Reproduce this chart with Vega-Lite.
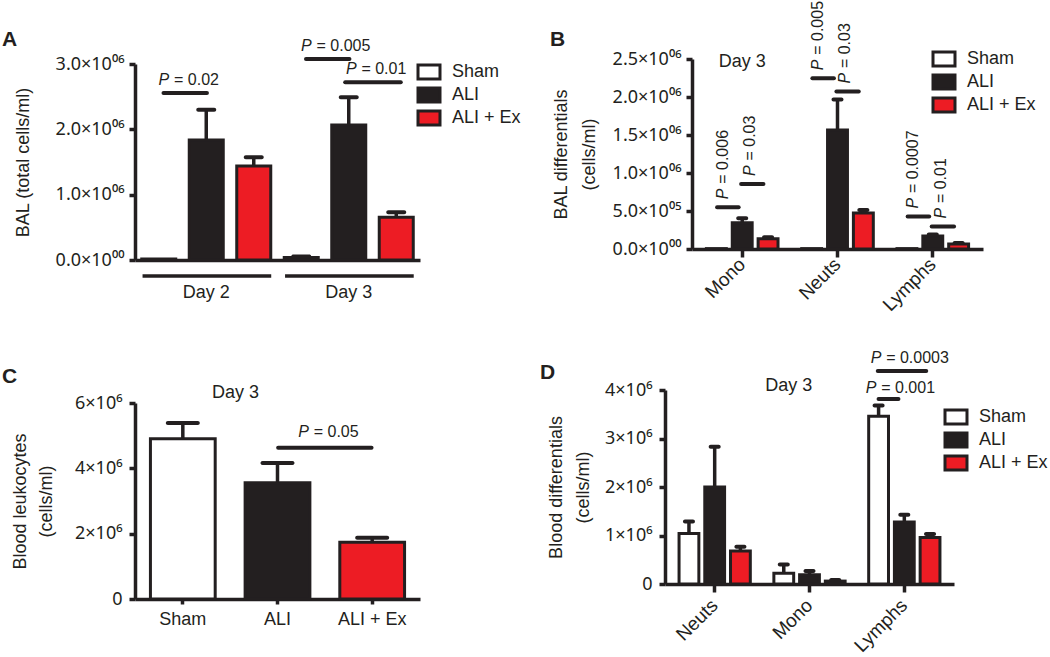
{
  "$schema": "https://vega.github.io/schema/vega-lite/v6.json",
  "padding": {"left": 2, "top": 0, "right": 0, "bottom": 0},
  "datasets": {
    "A": [
      {"grp": "Day 2", "series": "Sham", "value": 15000, "upper": null},
      {"grp": "Day 2", "series": "ALI", "value": 1838000, "upper": 2300000},
      {"grp": "Day 2", "series": "ALI + Ex", "value": 1437000, "upper": 1574000},
      {"grp": "Day 3", "series": "Sham", "value": 40000, "upper": 55000},
      {"grp": "Day 3", "series": "ALI", "value": 2065000, "upper": 2490000},
      {"grp": "Day 3", "series": "ALI + Ex", "value": 655000, "upper": 729000}
    ],
    "Asig": [
      {"grp": "Day 2", "pair": "SA", "y": 2555000, "lab": "= 0.02"},
      {"grp": "Day 3", "pair": "SA", "y": 3077000, "lab": "= 0.005"},
      {"grp": "Day 3", "pair": "AE", "y": 2720000, "lab": "= 0.01"}
    ],
    "B": [
      {"grp": "Mono", "series": "Sham", "value": 5000, "upper": null},
      {"grp": "Mono", "series": "ALI", "value": 345000, "upper": 405000},
      {"grp": "Mono", "series": "ALI + Ex", "value": 135000, "upper": 155000},
      {"grp": "Neuts", "series": "Sham", "value": 5000, "upper": null},
      {"grp": "Neuts", "series": "ALI", "value": 1566000, "upper": 1966000},
      {"grp": "Neuts", "series": "ALI + Ex", "value": 474000, "upper": 513000},
      {"grp": "Lymphs", "series": "Sham", "value": 5000, "upper": null},
      {"grp": "Lymphs", "series": "ALI", "value": 170000, "upper": 190000},
      {"grp": "Lymphs", "series": "ALI + Ex", "value": 66000, "upper": 79000}
    ],
    "Bsig": [
      {"grp": "Mono", "pair": "SA", "y": 549000, "lab": "= 0.006"},
      {"grp": "Mono", "pair": "AE", "y": 855000, "lab": "= 0.03"},
      {"grp": "Neuts", "pair": "SA", "y": 2246000, "lab": "= 0.005"},
      {"grp": "Neuts", "pair": "AE", "y": 2071000, "lab": "= 0.03"},
      {"grp": "Lymphs", "pair": "SA", "y": 426000, "lab": "= 0.0007"},
      {"grp": "Lymphs", "pair": "AE", "y": 295000, "lab": "= 0.01"}
    ],
    "C": [
      {"series": "Sham", "value": 4905000, "upper": 5390000},
      {"series": "ALI", "value": 3560000, "upper": 4160000},
      {"series": "ALI + Ex", "value": 1737000, "upper": 1874000}
    ],
    "Csig": [
      {"from": "ALI", "to": "ALI + Ex", "y": 4630000, "lab": "= 0.05"}
    ],
    "D": [
      {"grp": "Neuts", "series": "Sham", "value": 1040000, "upper": 1290000},
      {"grp": "Neuts", "series": "ALI", "value": 2000000, "upper": 2830000},
      {"grp": "Neuts", "series": "ALI + Ex", "value": 680000, "upper": 770000},
      {"grp": "Mono", "series": "Sham", "value": 220000, "upper": 400000},
      {"grp": "Mono", "series": "ALI", "value": 190000, "upper": 270000},
      {"grp": "Mono", "series": "ALI + Ex", "value": 60000, "upper": 80000},
      {"grp": "Lymphs", "series": "Sham", "value": 3460000, "upper": 3680000},
      {"grp": "Lymphs", "series": "ALI", "value": 1280000, "upper": 1430000},
      {"grp": "Lymphs", "series": "ALI + Ex", "value": 960000, "upper": 1030000}
    ],
    "Dsig": [
      {"grp": "Lymphs", "pair": "SE", "y": 4392000, "lab": "= 0.0003"},
      {"grp": "Lymphs", "pair": "SA", "y": 3814000, "lab": "= 0.001"}
    ],
    "notes": [{"note": "Day 3"}]
  },
  "vconcat": [
    {
      "hconcat": [
        {
          "width": 285, "height": 201,
          "title": {"text": "A", "dx": -133, "dy": 16.5},
          "layer": [
            {
              "data": {"name": "A"},
              "mark": {"type": "bar", "stroke": "#231f20", "strokeWidth": 3},
              "encoding": {
                "x": {"field": "grp", "type": "nominal", "sort": null, "scale": {"domain": ["Day 2", "Day 3"], "paddingInner": 0, "paddingOuter": 0}, "axis": {"title": null, "ticks": false, "labelAngle": 0, "labelPadding": 23, "labelOverlap": false}},
                "xOffset": {"field": "series", "type": "nominal", "sort": null, "scale": {"domain": ["Sham", "ALI", "ALI + Ex"], "paddingInner": 0.284, "paddingOuter": 0.142}},
                "y": {"field": "value", "type": "quantitative", "scale": {"domain": [0, 3000000], "range": [201, 5], "nice": false}, "axis": {"title": "BAL (total cells/ml)", "values": [0, 1000000, 2000000, 3000000], "tickCount": 4, "labelExpr": "datum.value == 0 ? '0.0×10⁰⁰' : format(datum.value / 1000000, '.1f') + '×10⁰⁶'", "titlePadding": 23, "labelPadding": 5, "labelFont": "Noto Sans", "labelOverlap": false}},
                "fill": {"field": "series", "type": "nominal", "scale": {"domain": ["Sham", "ALI", "ALI + Ex"], "range": ["#ffffff", "#231f20", "#ed1c24"]}, "legend": {"title": null, "orient": "none", "legendX": 285, "legendY": 4}}
              }
            },
            {
              "data": {"name": "A"},
              "transform": [{"filter": "isValid(datum.upper)"}],
              "mark": {"type": "rule", "strokeWidth": 3.5, "color": "#231f20"},
              "encoding": {
                "x": {"field": "grp", "type": "nominal"},
                "xOffset": {"field": "series", "type": "nominal"},
                "y": {"field": "value", "type": "quantitative"},
                "y2": {"field": "upper"}
              }
            },
            {
              "data": {"name": "A"},
              "transform": [{"filter": "isValid(datum.upper)"}],
              "mark": {"type": "tick", "orient": "horizontal", "size": 20, "thickness": 4, "cornerRadius": 2, "color": "#231f20", "opacity": 1},
              "encoding": {
                "x": {"field": "grp", "type": "nominal"},
                "xOffset": {"field": "series", "type": "nominal"},
                "y": {"field": "upper", "type": "quantitative"}
              }
            },
            {
              "data": {"name": "A"},
              "transform": [{"filter": "datum.series == 'ALI'"}],
              "mark": {"type": "rule", "strokeWidth": 3.5, "color": "#231f20"},
              "encoding": {
                "x": {"field": "grp", "type": "nominal", "bandPosition": 0.053},
                "x2": {"field": "grp", "bandPosition": 0.956},
                "y": {"datum": -245000, "type": "quantitative"}
              }
            },
            {
              "data": {"name": "Asig"},
              "transform": [{"filter": "datum.pair == 'SA'"}],
              "mark": {"type": "rule", "strokeWidth": 4, "strokeCap": "round", "color": "#231f20"},
              "encoding": {
                "x": {"field": "grp", "type": "nominal", "bandPosition": 0.2},
                "x2": {"field": "grp", "bandPosition": 0.505},
                "y": {"field": "y", "type": "quantitative"}
              }
            },
            {
              "data": {"name": "Asig"},
              "transform": [{"filter": "datum.pair == 'AE'"}],
              "mark": {"type": "rule", "strokeWidth": 4, "strokeCap": "round", "color": "#231f20"},
              "encoding": {
                "x": {"field": "grp", "type": "nominal", "bandPosition": 0.475},
                "x2": {"field": "grp", "bandPosition": 0.865},
                "y": {"field": "y", "type": "quantitative"}
              }
            },
            {
              "data": {"name": "Asig"},
              "transform": [{"filter": "datum.pair == 'SA'"}],
              "mark": {"type": "text", "text": "P", "fontStyle": "italic", "fontSize": 16, "align": "left", "dy": -13, "color": "#231f20"},
              "encoding": {
                "x": {"field": "grp", "type": "nominal", "bandPosition": 0.165},
                "y": {"field": "y", "type": "quantitative"}
              }
            },
            {
              "data": {"name": "Asig"},
              "transform": [{"filter": "datum.pair == 'SA'"}],
              "mark": {"type": "text", "fontSize": 16, "align": "left", "dy": -13, "dx": 15.5, "color": "#231f20"},
              "encoding": {
                "x": {"field": "grp", "type": "nominal", "bandPosition": 0.165},
                "y": {"field": "y", "type": "quantitative"},
                "text": {"field": "lab"}
              }
            },
            {
              "data": {"name": "Asig"},
              "transform": [{"filter": "datum.pair == 'AE'"}],
              "mark": {"type": "text", "text": "P", "fontStyle": "italic", "fontSize": 16, "align": "left", "dy": -13, "color": "#231f20"},
              "encoding": {
                "x": {"field": "grp", "type": "nominal", "bandPosition": 0.48},
                "y": {"field": "y", "type": "quantitative"}
              }
            },
            {
              "data": {"name": "Asig"},
              "transform": [{"filter": "datum.pair == 'AE'"}],
              "mark": {"type": "text", "fontSize": 16, "align": "left", "dy": -13, "dx": 15.5, "color": "#231f20"},
              "encoding": {
                "x": {"field": "grp", "type": "nominal", "bandPosition": 0.48},
                "y": {"field": "y", "type": "quantitative"},
                "text": {"field": "lab"}
              }
            }
          ]
        },
        {
          "width": 291, "height": 190,
          "title": {"text": "B", "dx": -142, "dy": 53},
          "layer": [
            {
              "data": {"name": "B"},
              "mark": {"type": "bar", "stroke": "#231f20", "strokeWidth": 3},
              "encoding": {
                "x": {"field": "grp", "type": "nominal", "sort": null, "scale": {"domain": ["Mono", "Neuts", "Lymphs"], "paddingInner": 0.186, "paddingOuter": 0.12}, "axis": {"title": null, "tickSize": 8, "labelAngle": -45, "labelAlign": "right", "labelBaseline": "middle", "labelPadding": 4, "labelFontSize": 19, "labelOverlap": false}},
                "xOffset": {"field": "series", "type": "nominal", "sort": null, "scale": {"domain": ["Sham", "ALI", "ALI + Ex"], "paddingInner": 0.23, "paddingOuter": 0.115}},
                "y": {"field": "value", "type": "quantitative", "scale": {"domain": [0, 2500000], "range": [190, 0], "nice": false}, "axis": {"title": ["BAL differentials", "(cells/ml)"], "titleLineHeight": 28, "values": [0, 500000, 1000000, 1500000, 2000000, 2500000], "tickCount": 6, "labelExpr": "datum.value == 0 ? '0.0×10⁰⁰' : datum.value < 1000000 ? format(datum.value / 100000, '.1f') + '×10⁰⁵' : format(datum.value / 1000000, '.1f') + '×10⁰⁶'", "titlePadding": 13.5, "labelPadding": 5, "labelFont": "Noto Sans", "labelOverlap": false, "labelSeparation": 0}},
                "fill": {"field": "series", "type": "nominal", "scale": {"domain": ["Sham", "ALI", "ALI + Ex"], "range": ["#ffffff", "#231f20", "#ed1c24"]}, "legend": {"title": null, "orient": "none", "legendX": 243, "legendY": -9}}
              }
            },
            {
              "data": {"name": "B"},
              "transform": [{"filter": "isValid(datum.upper)"}],
              "mark": {"type": "rule", "strokeWidth": 3.5, "color": "#231f20"},
              "encoding": {
                "x": {"field": "grp", "type": "nominal"},
                "xOffset": {"field": "series", "type": "nominal"},
                "y": {"field": "value", "type": "quantitative"},
                "y2": {"field": "upper"}
              }
            },
            {
              "data": {"name": "B"},
              "transform": [{"filter": "isValid(datum.upper)"}],
              "mark": {"type": "tick", "orient": "horizontal", "size": 12, "thickness": 4, "cornerRadius": 2, "color": "#231f20", "opacity": 1},
              "encoding": {
                "x": {"field": "grp", "type": "nominal"},
                "xOffset": {"field": "series", "type": "nominal"},
                "y": {"field": "upper", "type": "quantitative"}
              }
            },
            {
              "data": {"name": "Bsig"},
              "transform": [{"filter": "datum.pair == 'SA'"}],
              "mark": {"type": "rule", "strokeWidth": 4, "strokeCap": "round", "color": "#231f20"},
              "encoding": {
                "x": {"field": "grp", "type": "nominal", "bandPosition": 0.176},
                "x2": {"field": "grp", "bandPosition": 0.454},
                "y": {"field": "y", "type": "quantitative"}
              }
            },
            {
              "data": {"name": "Bsig"},
              "transform": [{"filter": "datum.pair == 'AE'"}],
              "mark": {"type": "rule", "strokeWidth": 4, "strokeCap": "round", "color": "#231f20"},
              "encoding": {
                "x": {"field": "grp", "type": "nominal", "bandPosition": 0.486},
                "x2": {"field": "grp", "bandPosition": 0.774},
                "y": {"field": "y", "type": "quantitative"}
              }
            },
            {
              "data": {"name": "Bsig"},
              "transform": [{"filter": "datum.pair == 'SA'"}],
              "mark": {"type": "text", "text": "P", "fontStyle": "italic", "fontSize": 16, "angle": 270, "align": "left", "baseline": "middle", "dx": 8, "color": "#231f20"},
              "encoding": {
                "x": {"field": "grp", "type": "nominal", "bandPosition": 0.25},
                "y": {"field": "y", "type": "quantitative"}
              }
            },
            {
              "data": {"name": "Bsig"},
              "transform": [{"filter": "datum.pair == 'SA'"}],
              "mark": {"type": "text", "fontSize": 16, "angle": 270, "align": "left", "baseline": "middle", "dx": 23.5, "color": "#231f20"},
              "encoding": {
                "x": {"field": "grp", "type": "nominal", "bandPosition": 0.25},
                "y": {"field": "y", "type": "quantitative"},
                "text": {"field": "lab"}
              }
            },
            {
              "data": {"name": "Bsig"},
              "transform": [{"filter": "datum.pair == 'AE'"}],
              "mark": {"type": "text", "text": "P", "fontStyle": "italic", "fontSize": 16, "angle": 270, "align": "left", "baseline": "middle", "dx": 8, "color": "#231f20"},
              "encoding": {
                "x": {"field": "grp", "type": "nominal", "bandPosition": 0.6},
                "y": {"field": "y", "type": "quantitative"}
              }
            },
            {
              "data": {"name": "Bsig"},
              "transform": [{"filter": "datum.pair == 'AE'"}],
              "mark": {"type": "text", "fontSize": 16, "angle": 270, "align": "left", "baseline": "middle", "dx": 23.5, "color": "#231f20"},
              "encoding": {
                "x": {"field": "grp", "type": "nominal", "bandPosition": 0.6},
                "y": {"field": "y", "type": "quantitative"},
                "text": {"field": "lab"}
              }
            },
            {
              "data": {"name": "notes"},
              "mark": {"type": "text", "fontSize": 18, "align": "center", "baseline": "middle", "color": "#231f20"},
              "encoding": {
                "x": {"datum": "Mono", "type": "nominal"},
                "y": {"datum": 2457000, "type": "quantitative"},
                "text": {"field": "note"}
              }
            }
          ]
        }
      ],
      "spacing": 272,
      "bounds": "flush",
      "resolve": {"scale": {"x": "independent", "y": "independent", "xOffset": "independent", "fill": "independent"}, "legend": {"fill": "independent"}}
    },
    {
      "hconcat": [
        {
          "width": 285, "height": 209,
          "title": {"text": "C", "dx": -133, "dy": 7.4},
          "layer": [
            {
              "data": {"name": "C"},
              "mark": {"type": "bar", "stroke": "#231f20", "strokeWidth": 3},
              "encoding": {
                "x": {"field": "series", "type": "nominal", "sort": null, "scale": {"domain": ["Sham", "ALI", "ALI + Ex"], "paddingInner": 0.316, "paddingOuter": 0.163}, "axis": {"title": null, "tickSize": 5, "labelAngle": 0, "labelPadding": 6, "labelOverlap": false}},
                "y": {"field": "value", "type": "quantitative", "scale": {"domain": [0, 6000000], "range": [209, 13], "nice": false}, "axis": {"title": ["Blood leukocytes", "(cells/ml)"], "titleLineHeight": 26, "values": [0, 2000000, 4000000, 6000000], "tickCount": 4, "labelExpr": "datum.value == 0 ? '0' : format(datum.value / 1000000, 'd') + '×10⁶'", "titlePadding": 19, "labelPadding": 7, "labelFont": "Noto Sans", "labelOverlap": false}},
                "fill": {"field": "series", "type": "nominal", "scale": {"domain": ["Sham", "ALI", "ALI + Ex"], "range": ["#ffffff", "#231f20", "#ed1c24"]}, "legend": null}
              }
            },
            {
              "data": {"name": "C"},
              "mark": {"type": "rule", "strokeWidth": 3.5, "color": "#231f20"},
              "encoding": {
                "x": {"field": "series", "type": "nominal"},
                "y": {"field": "value", "type": "quantitative"},
                "y2": {"field": "upper"}
              }
            },
            {
              "data": {"name": "C"},
              "mark": {"type": "tick", "orient": "horizontal", "size": 34, "thickness": 4, "cornerRadius": 2, "color": "#231f20", "opacity": 1},
              "encoding": {
                "x": {"field": "series", "type": "nominal"},
                "y": {"field": "upper", "type": "quantitative"}
              }
            },
            {
              "data": {"name": "Csig"},
              "mark": {"type": "rule", "strokeWidth": 4, "strokeCap": "round", "color": "#231f20"},
              "encoding": {
                "x": {"field": "from", "type": "nominal", "bandPosition": 0.51},
                "x2": {"field": "to", "bandPosition": 0.49},
                "y": {"field": "y", "type": "quantitative"}
              }
            },
            {
              "data": {"name": "Csig"},
              "mark": {"type": "text", "text": "P", "fontStyle": "italic", "fontSize": 16, "align": "left", "dy": -15.5, "color": "#231f20"},
              "encoding": {
                "x": {"field": "from", "type": "nominal", "bandPosition": 0.82},
                "y": {"field": "y", "type": "quantitative"}
              }
            },
            {
              "data": {"name": "Csig"},
              "mark": {"type": "text", "fontSize": 16, "align": "left", "dy": -15.5, "dx": 15.5, "color": "#231f20"},
              "encoding": {
                "x": {"field": "from", "type": "nominal", "bandPosition": 0.82},
                "y": {"field": "y", "type": "quantitative"},
                "text": {"field": "lab"}
              }
            },
            {
              "data": {"name": "notes"},
              "mark": {"type": "text", "fontSize": 18, "align": "center", "baseline": "middle", "color": "#231f20"},
              "encoding": {
                "x": {"datum": "Sham", "type": "nominal", "bandPosition": 1.315},
                "y": {"datum": 6320000, "type": "quantitative"},
                "text": {"field": "note"}
              }
            }
          ]
        },
        {
          "width": 289, "height": 194,
          "title": {"text": "D", "dx": -125, "dy": 37.5},
          "layer": [
            {
              "data": {"name": "D"},
              "mark": {"type": "bar", "stroke": "#231f20", "strokeWidth": 3},
              "encoding": {
                "x": {"field": "grp", "type": "nominal", "sort": null, "scale": {"domain": ["Neuts", "Mono", "Lymphs"], "paddingInner": 0.186, "paddingOuter": 0.117}, "axis": {"title": null, "tickSize": 8, "labelAngle": -45, "labelAlign": "right", "labelBaseline": "middle", "labelPadding": 10, "labelFontSize": 19, "labelOverlap": false}},
                "xOffset": {"field": "series", "type": "nominal", "sort": null, "scale": {"domain": ["Sham", "ALI", "ALI + Ex"], "paddingInner": 0.23, "paddingOuter": 0.115}},
                "y": {"field": "value", "type": "quantitative", "scale": {"domain": [0, 4000000], "range": [194, 0], "nice": false}, "axis": {"title": ["Blood differentials", "(cells/ml)"], "titleLineHeight": 27, "values": [0, 1000000, 2000000, 3000000, 4000000], "tickCount": 5, "labelExpr": "datum.value == 0 ? '0' : format(datum.value / 1000000, 'd') + '×10⁶'", "titlePadding": 12, "labelPadding": 7, "labelFont": "Noto Sans", "labelOverlap": false}},
                "fill": {"field": "series", "type": "nominal", "scale": {"domain": ["Sham", "ALI", "ALI + Ex"], "range": ["#ffffff", "#231f20", "#ed1c24"]}, "legend": {"title": null, "orient": "none", "legendX": 282, "legendY": 18}}
              }
            },
            {
              "data": {"name": "D"},
              "mark": {"type": "rule", "strokeWidth": 3.5, "color": "#231f20"},
              "encoding": {
                "x": {"field": "grp", "type": "nominal"},
                "xOffset": {"field": "series", "type": "nominal"},
                "y": {"field": "value", "type": "quantitative"},
                "y2": {"field": "upper"}
              }
            },
            {
              "data": {"name": "D"},
              "mark": {"type": "tick", "orient": "horizontal", "size": 12, "thickness": 4, "cornerRadius": 2, "color": "#231f20", "opacity": 1},
              "encoding": {
                "x": {"field": "grp", "type": "nominal"},
                "xOffset": {"field": "series", "type": "nominal"},
                "y": {"field": "upper", "type": "quantitative"}
              }
            },
            {
              "data": {"name": "Dsig"},
              "transform": [{"filter": "datum.pair == 'SE'"}],
              "mark": {"type": "rule", "strokeWidth": 4, "strokeCap": "round", "color": "#231f20"},
              "encoding": {
                "x": {"field": "grp", "type": "nominal", "bandPosition": 0.156},
                "x2": {"field": "grp", "bandPosition": 0.784},
                "y": {"field": "y", "type": "quantitative"}
              }
            },
            {
              "data": {"name": "Dsig"},
              "transform": [{"filter": "datum.pair == 'SA'"}],
              "mark": {"type": "rule", "strokeWidth": 4, "strokeCap": "round", "color": "#231f20"},
              "encoding": {
                "x": {"field": "grp", "type": "nominal", "bandPosition": 0.166},
                "x2": {"field": "grp", "bandPosition": 0.424},
                "y": {"field": "y", "type": "quantitative"}
              }
            },
            {
              "data": {"name": "Dsig"},
              "transform": [{"filter": "datum.pair == 'SE'"}],
              "mark": {"type": "text", "text": "P", "fontStyle": "italic", "fontSize": 16, "align": "left", "dy": -13, "color": "#231f20"},
              "encoding": {
                "x": {"field": "grp", "type": "nominal", "bandPosition": 0.064},
                "y": {"field": "y", "type": "quantitative"}
              }
            },
            {
              "data": {"name": "Dsig"},
              "transform": [{"filter": "datum.pair == 'SE'"}],
              "mark": {"type": "text", "fontSize": 16, "align": "left", "dy": -13, "dx": 15.5, "color": "#231f20"},
              "encoding": {
                "x": {"field": "grp", "type": "nominal", "bandPosition": 0.064},
                "y": {"field": "y", "type": "quantitative"},
                "text": {"field": "lab"}
              }
            },
            {
              "data": {"name": "Dsig"},
              "transform": [{"filter": "datum.pair == 'SA'"}],
              "mark": {"type": "text", "text": "P", "fontStyle": "italic", "fontSize": 16, "align": "left", "dy": -11, "color": "#231f20"},
              "encoding": {
                "x": {"field": "grp", "type": "nominal", "bandPosition": 0.0},
                "y": {"field": "y", "type": "quantitative"}
              }
            },
            {
              "data": {"name": "Dsig"},
              "transform": [{"filter": "datum.pair == 'SA'"}],
              "mark": {"type": "text", "fontSize": 16, "align": "left", "dy": -11, "dx": 15.5, "color": "#231f20"},
              "encoding": {
                "x": {"field": "grp", "type": "nominal", "bandPosition": 0.0},
                "y": {"field": "y", "type": "quantitative"},
                "text": {"field": "lab"}
              }
            },
            {
              "data": {"name": "notes"},
              "mark": {"type": "text", "fontSize": 18, "align": "center", "baseline": "middle", "color": "#231f20"},
              "encoding": {
                "x": {"datum": "Mono", "type": "nominal", "bandPosition": 0.23},
                "y": {"datum": 4082000, "type": "quantitative"},
                "text": {"field": "note"}
              }
            }
          ]
        }
      ],
      "spacing": 245,
      "bounds": "flush",
      "resolve": {"scale": {"x": "independent", "y": "independent", "xOffset": "independent", "fill": "independent"}, "legend": {"fill": "independent"}}
    }
  ],
  "spacing": 34,
  "bounds": "full",
  "resolve": {"scale": {"x": "independent", "y": "independent", "xOffset": "independent", "fill": "independent"}, "legend": {"fill": "independent"}},
  "config": {
    "font": "Liberation Sans",
    "view": {"stroke": null},
    "axis": {
      "domainColor": "#231f20", "domainWidth": 3.5, "tickColor": "#231f20", "tickWidth": 3.5, "tickSize": 6,
      "labelFontSize": 18, "labelColor": "#231f20", "labelFont": "Liberation Sans",
      "titleFontSize": 18, "titleFontWeight": "normal", "titleColor": "#231f20", "titleFont": "Liberation Sans",
      "grid": false, "labelOverlap": false, "labelFlush": false, "labelBound": false
    },
    "axisY": {"labelOverlap": false},
    "axisQuantitative": {"labelOverlap": false},
    "legend": {
      "labelFontSize": 18, "labelFont": "Liberation Sans", "labelColor": "#231f20",
      "symbolStrokeColor": "#231f20", "symbolStrokeWidth": 3, "symbolType": "M-1.571,-1H1.571V1H-1.571Z",
      "symbolSize": 196, "symbolOpacity": 1, "labelOffset": 14, "rowPadding": -3
    },
    "title": {"fontSize": 21, "fontWeight": "bold", "color": "#231f20", "anchor": "start", "frame": "group", "offset": 0}
  }
}
